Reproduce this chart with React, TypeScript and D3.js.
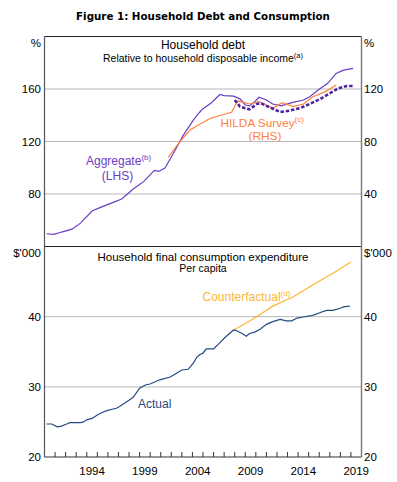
import React from "react";
import * as d3 from "d3";

// ---- Data ----
const aggYears = [1990.2, 1990.9, 1991.7, 1992.6, 1993.4, 1994.5, 1995.3, 1996.5, 1997.3, 1998.4, 1999.4, 2000.4, 2000.8, 2001.4, 2002.2, 2003.1, 2004.1, 2004.7, 2005.0, 2005.8, 2006.6, 2007.0, 2007.9, 2008.5, 2009.0, 2009.4, 2009.9, 2010.3, 2011.0, 2011.6, 2012.4, 2013.4, 2014.5, 2015.1, 2015.9, 2016.8, 2017.6, 2018.3, 2019.2];
const aggValues = [49.7, 49.2, 51.2, 53.2, 57.8, 67.0, 69.8, 73.6, 76.2, 83.8, 89.6, 98.0, 97.2, 99.8, 111.0, 124.3, 136.5, 142.5, 145.0, 149.5, 155.8, 154.9, 154.6, 152.5, 147.8, 147.1, 150.4, 153.7, 151.6, 148.6, 147.1, 149.6, 151.6, 154.1, 159.2, 164.3, 171.9, 174.4, 175.7];

// HILDA survey (RHS, %)
const hildaYears = [2001.7, 2002.7, 2003.8, 2004.7, 2005.7, 2007.7, 2008.3, 2009.4, 2010.3, 2011.6, 2012.5, 2013.5, 2014.5, 2015.4, 2016.6, 2017.6];
const hildaValues = [67.8, 78.7, 88.9, 93.2, 97.7, 102.3, 111.0, 108.6, 110.4, 105.3, 109.6, 106.6, 108.6, 114.1, 118.0, 123.1];

// Dashed series (RHS, %)
const dashYears = [2008.0, 2008.5, 2009.0, 2009.4, 2010.1, 2010.5, 2011.3, 2012.3, 2013.2, 2014.2, 2015.1, 2016.1, 2017.0, 2017.8, 2018.6, 2019.2];
const dashValues = [111.6, 106.6, 105.3, 104.5, 108.6, 109.1, 106.1, 102.5, 103.5, 105.5, 108.6, 112.5, 116.7, 120.5, 122.3, 122.3];

// Consumption per capita ($'000)
const actYears = [1990.2, 1990.7, 1991.2, 1991.6, 1992.1, 1992.4, 1993.4, 1993.7, 1994.0, 1994.5, 1995.0, 1995.4, 1995.9, 1996.4, 1996.8, 1997.1, 1997.6, 1998.1, 1998.4, 1999.0, 1999.6, 2000.0, 2000.9, 2001.9, 2002.5, 2003.0, 2003.6, 2004.1, 2004.4, 2004.7, 2005.0, 2005.3, 2006.0, 2006.6, 2007.2, 2007.9, 2008.2, 2008.7, 2009.1, 2009.4, 2009.9, 2010.4, 2011.0, 2011.6, 2012.3, 2012.9, 2013.4, 2013.9, 2014.5, 2015.1, 2015.6, 2016.1, 2016.7, 2017.3, 2018.0, 2018.3, 2018.9];
const actValues = [24.7, 24.7, 24.3, 24.4, 24.7, 24.9, 24.9, 25.0, 25.3, 25.5, 26.0, 26.3, 26.6, 26.8, 26.95, 27.2, 27.7, 28.2, 28.5, 29.8, 30.3, 30.4, 31.0, 31.4, 31.95, 32.4, 32.5, 33.4, 34.2, 34.6, 34.8, 35.4, 35.4, 36.3, 37.2, 38.1, 38.0, 37.6, 37.2, 37.6, 37.8, 38.2, 38.9, 39.3, 39.6, 39.4, 39.4, 39.8, 39.95, 40.1, 40.3, 40.6, 40.9, 40.9, 41.2, 41.4, 41.5];

const cfYears = [2007.9, 2009.1, 2010.4, 2011.6, 2013.5, 2015.7, 2017.3, 2019.0];
const cfValues = [38.1, 39.1, 40.3, 41.5, 42.8, 44.8, 46.2, 47.8];

const topLeftTicks = [80, 120, 160];
const topRightTicks = [40, 80, 120];
const botTicks = [20, 30, 40];
const yearLabels = [1994, 1999, 2004, 2009, 2014, 2019];

// ---- Layout ----
const W = 397, H = 482;
const L = 44.5, R = 361.5;
const T1 = 36.5, B1 = 246.5, B2 = 457;
const FONT = "'Liberation Sans', Arial, sans-serif";

const x = d3.scaleLinear().domain([1990, 2020]).range([L, R]);
const yL = d3.scaleLinear().domain([40, 200]).range([B1, T1]);
const yR = d3.scaleLinear().domain([0, 160]).range([B1, T1]);
const yB = d3.scaleLinear().domain([20, 50]).range([B2, B1]);

type P = [number, number];
const zip = (a: number[], b: number[]): P[] => a.map((v, i) => [v, b[i]]);

const mkLine = (ys: d3.ScaleLinear<number, number>) =>
  d3.line<P>().x((d) => x(d[0])).y((d) => ys(d[1])).curve(d3.curveLinear);

const PURPLE = "#6a3cc4";
const DPURPLE = "#4f22a6";
const ORANGE = "#ff8040";
const YELLOW = "#fbb634";
const NAVY = "#234a80";
const GRID = "#b8b8b8";

export default function App() {
  const yearTicks = d3.range(1991, 2020);
  return (
    <svg width={W} height={H} style={{ position: "absolute", left: 0, top: 0 }} fontFamily={FONT}>
      <rect width={W} height={H} fill="#fff" />
      <text x={203} y={20} textAnchor="middle" fontSize={10.3} fontWeight="bold" fontFamily="'DejaVu Sans', Verdana, sans-serif">
        Figure 1: Household Debt and Consumption
      </text>

      {/* gridlines */}
      {topLeftTicks.map((t) => (
        <line key={"g1" + t} x1={L} x2={R} y1={yL(t)} y2={yL(t)} stroke={GRID} strokeWidth={1} />
      ))}
      {botTicks.filter((t) => t > 20).map((t) => (
        <line key={"g2" + t} x1={L} x2={R} y1={yB(t)} y2={yB(t)} stroke={GRID} strokeWidth={1} />
      ))}

      {/* lines */}
      <path d={mkLine(yL)(zip(aggYears, aggValues)) || ""} fill="none" stroke={PURPLE} strokeWidth={1.2} />
      <path d={mkLine(yR)(zip(hildaYears, hildaValues)) || ""} fill="none" stroke={ORANGE} strokeWidth={1.2} />
      <path d={mkLine(yR)(zip(dashYears, dashValues)) || ""} fill="none" stroke={DPURPLE} strokeWidth={2.6} strokeDasharray="3.5,1.8" />
      <path d={mkLine(yB)(zip(cfYears, cfValues)) || ""} fill="none" stroke={YELLOW} strokeWidth={1.2} />
      <path d={mkLine(yB)(zip(actYears, actValues)) || ""} fill="none" stroke={NAVY} strokeWidth={1.2} />

      {/* frame */}
      <line x1={L} x2={R} y1={T1} y2={T1} stroke="#222" strokeWidth={1.2} />
      <line x1={L} x2={R} y1={B1} y2={B1} stroke="#222" strokeWidth={1.2} />
      <line x1={L} x2={R} y1={B2} y2={B2} stroke="#333" strokeWidth={1.2} />
      <line x1={L} x2={L} y1={T1} y2={B2} stroke="#555" strokeWidth={1.2} />
      <line x1={R} x2={R} y1={T1} y2={B2} stroke="#777" strokeWidth={1.4} />

      {/* year ticks */}
      {yearTicks.map((yr) => (
        <line key={"t" + yr} x1={x(yr)} x2={x(yr)} y1={B2} y2={B2 - 5} stroke="#333" strokeWidth={1} />
      ))}
      {yearLabels.map((yr) => (
        <text key={"yl" + yr} x={x(yr + 0.5)} y={475} textAnchor="middle" fontSize={11.5} fill="#000">
          {yr}
        </text>
      ))}

      {/* axis labels top */}
      <text x={41} y={47} textAnchor="end" fontSize={11.5}>%</text>
      <text x={364} y={47} textAnchor="start" fontSize={11.5}>%</text>
      {topLeftTicks.map((t) => (
        <text key={"tl" + t} x={41} y={yL(t) + 4} textAnchor="end" fontSize={11.5}>{t}</text>
      ))}
      {topRightTicks.map((t) => (
        <text key={"tr" + t} x={364} y={yR(t) + 4} textAnchor="start" fontSize={11.5}>{t}</text>
      ))}

      {/* axis labels bottom */}
      <text x={41} y={257} textAnchor="end" fontSize={11.5}>$'000</text>
      <text x={364} y={257} textAnchor="start" fontSize={11.5}>$'000</text>
      {botTicks.map((t) => (
        <text key={"bl" + t} x={41} y={yB(t) + 4} textAnchor="end" fontSize={11.5}>{t}</text>
      ))}
      {botTicks.map((t) => (
        <text key={"br" + t} x={364} y={yB(t) + 4} textAnchor="start" fontSize={11.5}>{t}</text>
      ))}

      {/* panel titles */}
      <text x={203} y={49} textAnchor="middle" fontSize={12}>Household debt</text>
      <text x={203} y={62} textAnchor="middle" fontSize={10.5}>
        Relative to household disposable income
        <tspan fontSize={7.5} dy={-4}>(a)</tspan>
      </text>
      <text x={203} y={261} textAnchor="middle" fontSize={11.5}>Household final consumption expenditure</text>
      <text x={203} y={272} textAnchor="middle" fontSize={10.5}>Per capita</text>

      {/* series labels */}
      <text x={86} y={165} fontSize={12} fill={PURPLE}>
        Aggregate<tspan fontSize={8} dy={-5}>(b)</tspan>
      </text>
      <text x={117.5} y={179.5} textAnchor="middle" fontSize={12} fill={PURPLE}>(LHS)</text>
      <text x={220.5} y={127} fontSize={11.8} fill={ORANGE}>
        HILDA Survey<tspan fontSize={8} dy={-5}>(c)</tspan>
      </text>
      <text x={265} y={140} textAnchor="middle" fontSize={11.8} fill={ORANGE}>(RHS)</text>
      <text x={202.5} y={301} fontSize={12} fill={YELLOW}>
        Counterfactual<tspan fontSize={8} dy={-5}>(d)</tspan>
      </text>
      <text x={138} y={407.5} fontSize={12} fill={NAVY}>Actual</text>
    </svg>
  );
}
